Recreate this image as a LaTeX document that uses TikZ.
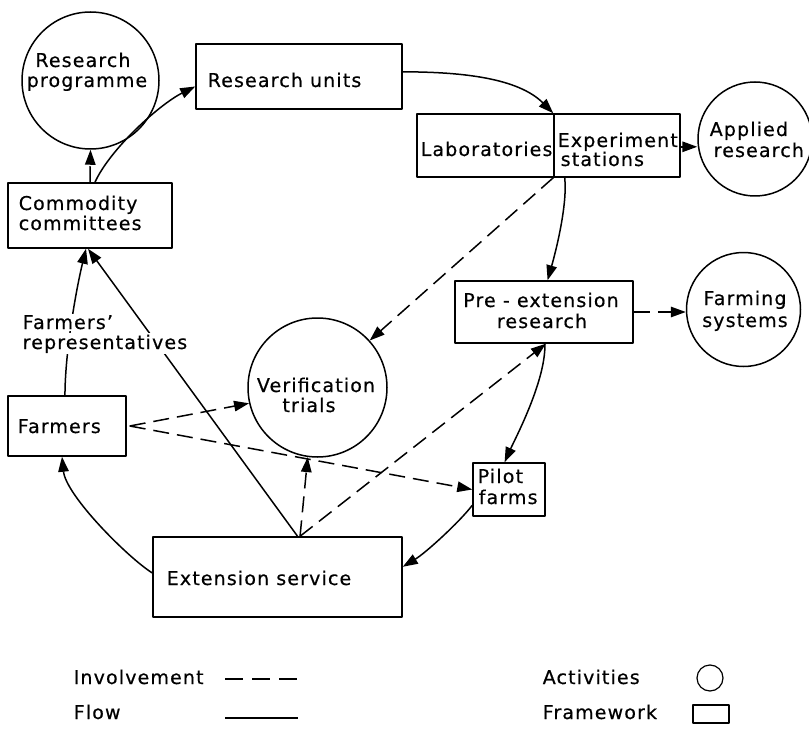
\documentclass[tikz,border=0pt]{standalone}
\usepackage{fontspec}
\setmainfont{DejaVu Sans}[LetterSpace=6,FakeBold=0.5]
\usetikzlibrary{arrows.meta,calc}
\begin{document}
\begin{tikzpicture}[x=1pt,y=-1pt,
  line width=1.5pt, line join=round,
  fwbox/.style={draw, rectangle, inner sep=0pt},
  activity/.style={draw, circle, inner sep=0pt},
  txt/.style={inner sep=0pt, font=\fontsize{19}{21}\selectfont},
  flow/.style={-{Triangle[length=15pt,width=10.5pt]}},
  involve/.style={flow, dash pattern=on 16pt off 8pt},
  legendline/.style={line width=1.2pt},
]
\useasboundingbox (0,0) rectangle (809,733);

% ---- frameworks (boxes) ----
\node[fwbox, minimum width=206pt, minimum height=65pt] (ru)  at (299,76.5) {};
\node[fwbox, minimum width=164pt, minimum height=65pt] (cc)  at (90,215.5) {};
\node[fwbox, minimum width=137pt, minimum height=63pt] (lab) at (485.5,145.5) {};
\node[fwbox, minimum width=126pt, minimum height=63pt] (es)  at (617,145.5) {};
\node[fwbox, minimum width=178pt, minimum height=62pt] (pre) at (544,312) {};
\node[fwbox, minimum width=72pt,  minimum height=53pt] (pf)  at (509,489.5) {};
\node[fwbox, minimum width=118pt, minimum height=60pt] (fa)  at (67,426) {};
\node[fwbox, minimum width=249pt, minimum height=80pt] (ext) at (277.5,577) {};

% ---- activities (circles) ----
\node[activity, minimum size=137pt] (rp) at (90.5,80.5) {};
\node[activity, minimum size=114pt] (ar) at (755,139) {};
\node[activity, minimum size=114pt] (fs) at (743.5,309.5) {};
\node[activity, minimum size=139pt] (vt) at (317.5,387.5) {};

% ---- texts ----
\node[txt, anchor=base] (trp1) at (83,67) {Research};
\node[txt, anchor=base] (trp2) at (87,87) {programme};
\node[txt, anchor=base west] (tru) at (207,87) {Research units};
\node[txt, anchor=base west] (tcc1) at (18,210) {Commodity};
\node[txt, anchor=base west] (tcc2) at (18,230) {committees};
\node[txt, anchor=base west] (tlab) at (420,156) {Laboratories};
\node[txt, anchor=base west] (tes1) at (557,147) {Experiment};
\node[txt, anchor=base west] (tes2) at (560,166) {stations};
\node[txt, anchor=base west] (tar1) at (709,136) {Applied};
\node[txt, anchor=base west] (tar2) at (713,157) {research};
\node[txt, anchor=base] (tpre1) at (541,307) {Pre - extension};
\node[txt, anchor=base] (tpre2) at (542,328) {research};
\node[txt, anchor=base] (tfs1) at (745,305) {Farming};
\node[txt, anchor=base] (tfs2) at (745,327) {systems};
\node[txt, anchor=base] (tvt1) at (316,392) {Verification};
\node[txt, anchor=base] (tvt2) at (309,412) {trials};
\node[txt, anchor=base west] (tfa) at (17,433) {Farmers};
\node[txt, anchor=base west] (tpf1) at (477,483) {Pilot};
\node[txt, anchor=base west] (tpf2) at (478,504) {farms};
\node[txt, anchor=base west] (text) at (166,585) {Extension service};

% ---- flows (solid) ----
\draw[flow] ($(cc.north west)!0.53!(cc.north east)$)
  .. controls +(15,-33) and +(-36,18) .. ($(ru.south west)!0.35!(ru.north west)$);
\draw[flow] ($(ru.north east)!0.43!(ru.south east)$)
  .. controls +(60,0) and +(-35,-35) .. (es.north west);
\path ($(es.north east)!0.52!(es.south east)$) coordinate (esr);
\draw[flow] (esr) -- (esr -| ar.west);
\draw[flow] ($(es.south west)!0.09!(es.south east)$)
  .. controls +(3,28) and +(7.4,-26) .. ($(pre.north west)!0.52!(pre.north east)$);
\draw[flow] ($(pre.south west)!0.505!(pre.south east)$)
  .. controls +(1,37) and +(10.3,-23) .. ($(pf.north west)!0.44!(pf.north east)$);
\draw[flow] ($(pf.north west)!0.79!(pf.south west)$)
  .. controls +(-13,17) and +(23,-14) .. ($(ext.north east)!0.375!(ext.south east)$);
\draw[flow] ($(ext.north west)!0.45!(ext.south west)$)
  .. controls +(-24,-15) and +(4,39) .. ($(fa.south west)!0.458!(fa.south east)$);
\draw[flow] ($(fa.north west)!0.483!(fa.north east)$)
  .. controls +(0,-41) and +(-10.6,43.7) .. ($(cc.south west)!0.476!(cc.south east)$);
\draw[flow] ($(ext.north west)!0.58!(ext.north east)$) -- ($(cc.south west)!0.488!(cc.south east)$);

% ---- involvement (dashed) ----
\draw[involve] (cc.north) -- (rp.south);
\draw[involve] (es.south west) -- (vt.42);
\draw[involve] (pre.east) -- (pre.east -| fs.west);
\draw[involve] ([xshift=3pt]fa.east) -- (vt.193);
\draw[involve] ([xshift=3pt]fa.east) -- (pf.west);
\draw[involve] ($(ext.north west)!0.59!(ext.north east)$) -- (vt.262);
\draw[involve] ($(ext.north west)!0.59!(ext.north east)$) -- ($(pre.south west)!0.51!(pre.south east)$);

% ---- label on the farmers' line ----
\node[txt, anchor=base west, fill=white, inner sep=1.5pt] (trep1) at (20.5,329) {Farmers’};
\node[txt, anchor=base west, fill=white, inner sep=1.5pt] (trep2) at (20.5,349) {representatives};

% ---- legend ----
\node[txt, anchor=base west] (lgi) at (73,684) {Involvement};
\node[txt, anchor=base west] (lgf) at (73,719) {Flow};
\coordinate (li1) at (225,679);
\coordinate (li2) at (298,679);
\coordinate (lf1) at (225,718);
\coordinate (lf2) at (298,718);
\draw[legendline, dash pattern=on 18pt off 9pt] (li1) -- (li2);
\draw[legendline] (lf1) -- (lf2);
\node[txt, anchor=base west] (lga) at (542,684) {Activities};
\node[txt, anchor=base west] (lgw) at (542,719) {Framework};
\node[activity, legendline, minimum size=26pt] (lgc) at (710,678) {};
\node[fwbox, legendline, minimum width=36pt, minimum height=18pt] (lgb) at (711,714) {};
\end{tikzpicture}
\end{document}
